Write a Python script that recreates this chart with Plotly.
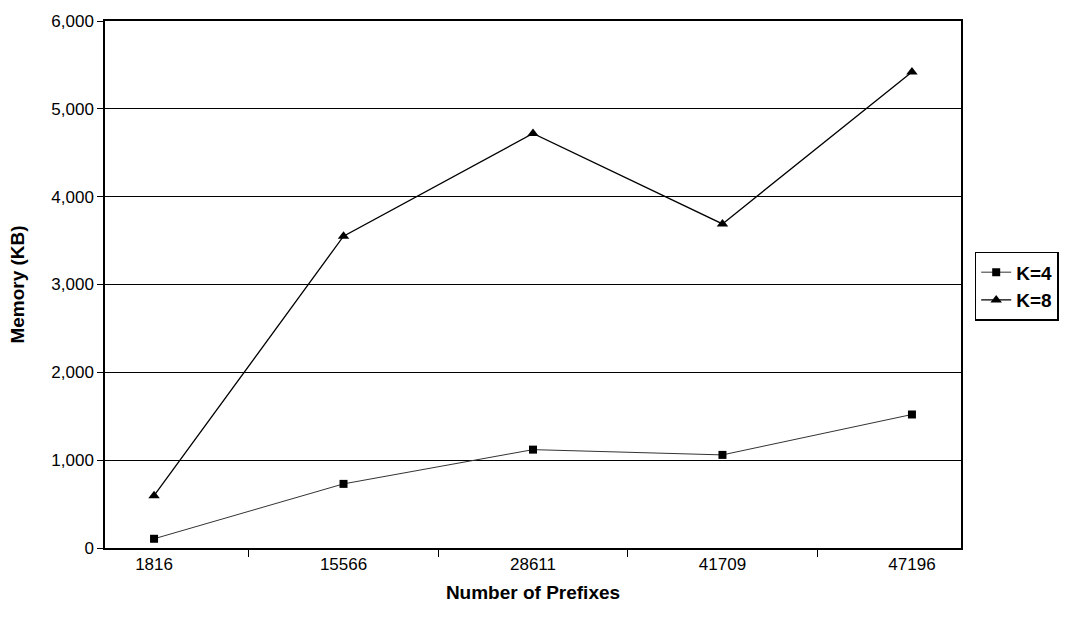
import plotly.graph_objects as go

categories = ["1816", "15566", "28611", "41709", "47196"]
k4 = [105, 730, 1120, 1060, 1520]
k8 = [595, 3550, 4720, 3690, 5420]
y_ticks = [0, 1000, 2000, 3000, 4000, 5000, 6000]

fig = go.Figure()
fig.add_trace(go.Scatter(
    x=categories, y=k4, name="K=4", mode="lines+markers",
    line=dict(color="#333333", width=1),
    marker=dict(symbol="square", size=8, color="black"),
))
fig.add_trace(go.Scatter(
    x=categories, y=k8, name="K=8", mode="lines+markers",
    line=dict(color="black", width=1.3),
    marker=dict(symbol="triangle-up", size=10, color="black"),
))

font = "Liberation Sans, Arial, sans-serif"
fig.update_layout(
    width=1071, height=625,
    margin=dict(l=105, r=110, t=16, b=77),
    paper_bgcolor="white", plot_bgcolor="white",
    font=dict(family=font, size=17, color="black"),
    showlegend=True,
    legend=dict(
        x=1.016, y=0.562, xanchor="left", yanchor="top",
        bordercolor="black", borderwidth=1.5, bgcolor="white",
        font=dict(family=font, size=19, color="black", weight="bold"),
        tracegroupgap=0, itemwidth=30,
    ),
    xaxis=dict(
        type="category", tickson="boundaries",
        showline=True, linecolor="black", linewidth=1.5, mirror=True,
        ticks="outside", ticklen=7, tickcolor="black",
        showgrid=False, zeroline=False,
        tickfont=dict(size=17),
        title=dict(text="<b>Number of Prefixes</b>", font=dict(size=19), standoff=13),
    ),
    yaxis=dict(
        range=[0, 6000], tickvals=y_ticks, tickformat=",",
        showline=True, linecolor="black", linewidth=1.5, mirror=True,
        ticks="outside", ticklen=6, tickcolor="black",
        showgrid=True, gridcolor="black", gridwidth=1.2, zeroline=False,
        tickfont=dict(size=17),
        title=dict(text="<b>Memory (KB)</b>", font=dict(size=19), standoff=22),
    ),
)

fig.write_html("out.html")
